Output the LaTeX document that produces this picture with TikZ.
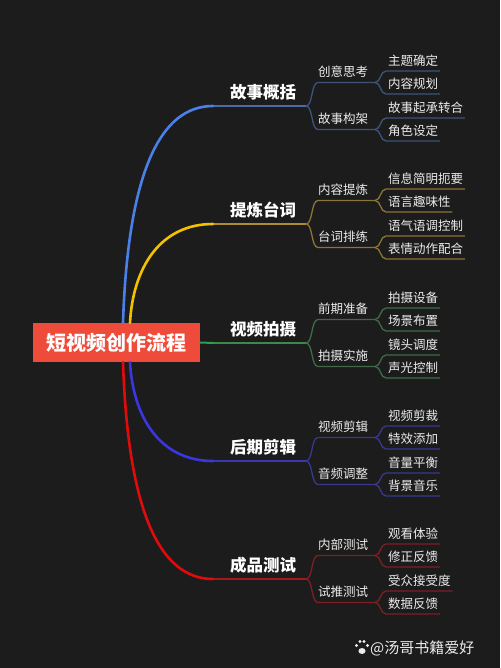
\documentclass[tikz,border=0pt]{standalone}
\usepackage{fontspec}
\setmainfont{Noto Sans CJK SC}
\definecolor{bg}{HTML}{1C1C1C}
\definecolor{rootred}{HTML}{EF4B3B}
\definecolor{txt}{HTML}{ECECEC}
\definecolor{c1main}{HTML}{4A80E8}\definecolor{c1fine}{HTML}{3C5479}\definecolor{c1mid}{HTML}{4A6AA8}
\definecolor{c2main}{HTML}{F2C200}\definecolor{c2fine}{HTML}{8C7336}\definecolor{c2mid}{HTML}{B08C30}
\definecolor{c3main}{HTML}{2FA04A}\definecolor{c3fine}{HTML}{3E6B47}\definecolor{c3mid}{HTML}{3A8A4C}
\definecolor{c4main}{HTML}{3A36E0}\definecolor{c4fine}{HTML}{38388E}\definecolor{c4mid}{HTML}{3838B0}
\definecolor{c5main}{HTML}{E00C0C}\definecolor{c5fine}{HTML}{7E1F24}\definecolor{c5mid}{HTML}{A01A1E}
\tikzset{
  rootbox/.style={fill=rootred, text=white, font=\bfseries\fontsize{20}{20}\selectfont,
    minimum width=167, minimum height=39, inner sep=0},
  maintext/.style={text=white, font=\bfseries\fontsize{16.5}{16.5}\selectfont, inner sep=0, anchor=west},
  subtext/.style={text=txt, font=\fontsize{12.5}{12.5}\selectfont, inner sep=0, anchor=west},
  leaftext/.style={text=txt, font=\fontsize{12.5}{12.5}\selectfont, inner ysep=0, inner xsep=1.5, anchor=west},
  mainline/.style={draw=c#1main, line width=2.6, line cap=round},
  midline/.style={draw=c#1mid, line width=1.5},
  fineline/.style={draw=c#1fine, line width=1.3},
}
\newcommand\mgroup[9]{%
  \coordinate (mL#1) at (213,#2);
  \coordinate (mR#1) at (306,#2);
  \node[maintext] (m#1) at (230,#2-14) {#3};
  \draw[midline=#1] (mL#1) -- (mR#1);
  \coordinate (sa#1) at (318,#2-23.5);
  \coordinate (sb#1) at (318,#2+23.5);
  \coordinate (sae#1) at (375,#2-23.5);
  \coordinate (sbe#1) at (375,#2+23.5);
  \node[subtext] (s#1a) at (318,#2-34) {#4};
  \node[subtext] (s#1b) at (318,#2+13) {#5};
  \draw[fineline=#1] (mR#1) .. controls +(7,0) and +(-7,0) .. (sa#1) -- (sae#1);
  \draw[fineline=#1] (mR#1) .. controls +(7,0) and +(-7,0) .. (sb#1) -- (sbe#1);
  \coordinate (la#1) at (386,#2-35);
  \coordinate (lb#1) at (386,#2-12);
  \coordinate (lc#1) at (386,#2+12);
  \coordinate (ld#1) at (386,#2+35);
  \node[leaftext] (l#1a) at (386.5,#2-45.5) {#6};
  \node[leaftext] (l#1b) at (386.5,#2-22.5) {#7};
  \node[leaftext] (l#1c) at (386.5,#2+1.5) {#8};
  \node[leaftext] (l#1d) at (386.5,#2+24.5) {#9};
  \draw[fineline=#1] (sae#1) .. controls +(6,0) and +(-6,0) .. (la#1) -- (l#1a.east |- la#1);
  \draw[fineline=#1] (sae#1) .. controls +(6,0) and +(-6,0) .. (lb#1) -- (l#1b.east |- lb#1);
  \draw[fineline=#1] (sbe#1) .. controls +(6,0) and +(-6,0) .. (lc#1) -- (l#1c.east |- lc#1);
  \draw[fineline=#1] (sbe#1) .. controls +(6,0) and +(-6,0) .. (ld#1) -- (l#1d.east |- ld#1);
}
\begin{document}
\begin{tikzpicture}[x=1pt,y=-1pt]
\fill[bg] (0,0) rectangle (500,668);
\useasboundingbox (0,0) rectangle (500,668);

\mgroup{1}{106}{故事概括}{创意思考}{故事构架}{主题确定}{内容规划}{故事起承转合}{角色设定}
\mgroup{2}{224}{提炼台词}{内容提炼}{台词排练}{信息简明扼要}{语言趣味性}{语气语调控制}{表情动作配合}
\mgroup{3}{343}{视频拍摄}{前期准备}{拍摄实施}{拍摄设备}{场景布置}{镜头调度}{声光控制}
\mgroup{4}{461}{后期剪辑}{视频剪辑}{音频调整}{视频剪裁}{特效添加}{音量平衡}{背景音乐}
\mgroup{5}{579}{成品测试}{内部测试}{试推测试}{观看体验}{修正反馈}{受众接受度}{数据反馈}

\node[rootbox] (root) at (116.5,342.5) {短视频创作流程};

\draw[mainline=1] ([xshift=6.5]root.north) .. controls +(5,-150) and +(-53,0) .. (mL1);
\draw[mainline=2] ([xshift=13.5]root.north) .. controls +(3,-55) and +(-53,0) .. (mL2);
\draw[mainline=3, line width=2] (root.east) -- (mL3);
\draw[mainline=4] ([xshift=13.5]root.south) .. controls +(3,55) and +(-53,0) .. (mL4);
\draw[mainline=5] ([xshift=6.5]root.south) .. controls +(5,150) and +(-53,0) .. (mL5);

% watermark
\fill[txt] (362,651) ellipse [x radius=3.6, y radius=3];
\foreach \px/\py in {356.5/645.5, 360/641.5, 364/641.5, 367.5/645.5}
  \fill[txt] (\px,\py) circle (1.6);
\node[text=txt, font=\fontsize{15}{15}\selectfont, inner sep=0, anchor=west] (wm) at (370,648) {@汤哥书籍爱好};
\end{tikzpicture}
\end{document}
